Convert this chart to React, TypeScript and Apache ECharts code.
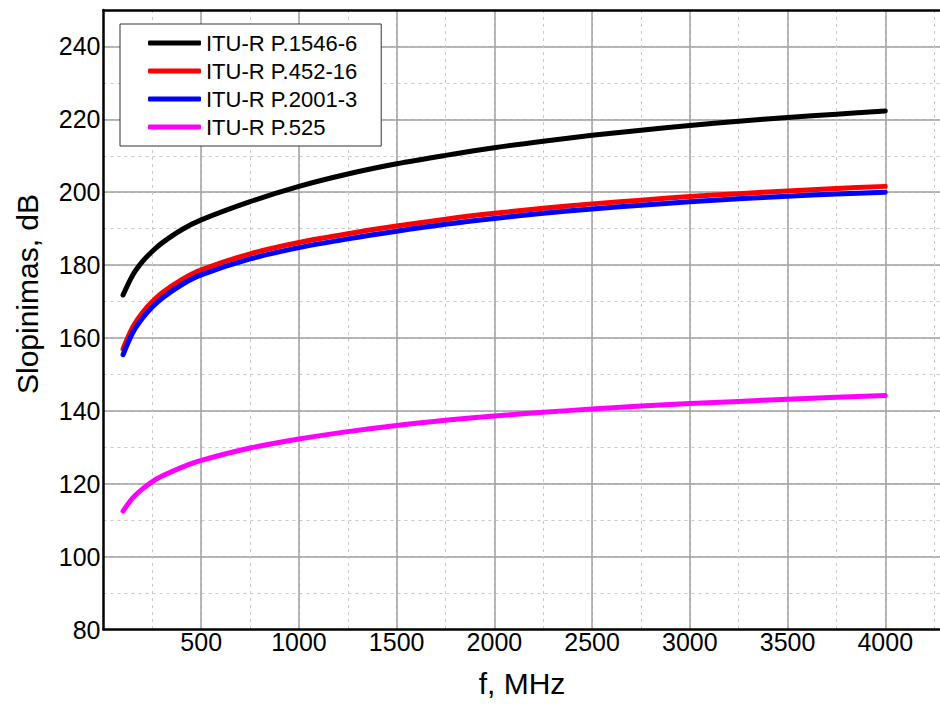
import React, { useEffect, useRef } from "react";
import * as echarts from "echarts";

const freqs = [100, 150, 200, 250, 300, 400, 500, 750, 1000, 1250, 1500, 1750, 2000, 2250, 2500, 2750, 3000, 3250, 3500, 3750, 4000];
const p1546 = [171.8, 177.3, 181.0, 183.8, 186.1, 189.7, 192.4, 197.4, 201.6, 205.0, 207.8, 210.1, 212.2, 214.0, 215.6, 217.0, 218.3, 219.5, 220.5, 221.4, 222.3];
const p452 = [157.0, 163.0, 167.0, 170.0, 172.4, 176.0, 178.7, 183.1, 186.2, 188.6, 190.7, 192.6, 194.2, 195.6, 196.8, 197.8, 198.8, 199.6, 200.3, 201.0, 201.6];
const p2001 = [155.4, 161.5, 165.5, 168.5, 170.9, 174.6, 177.3, 181.7, 184.8, 187.2, 189.3, 191.2, 192.8, 194.2, 195.4, 196.4, 197.4, 198.2, 198.9, 199.5, 200.0];
const p525 = [112.5, 116.1, 118.6, 120.6, 122.1, 124.5, 126.4, 129.8, 132.3, 134.3, 136.0, 137.4, 138.6, 139.6, 140.5, 141.3, 142.0, 142.6, 143.2, 143.7, 144.2];
const seriesNames = ["ITU-R P.1546-6", "ITU-R P.452-16", "ITU-R P.2001-3", "ITU-R P.525"];
const seriesColors = ["#000000", "#ff0000", "#0000ff", "#ff00ff"];
const seriesValues = [p1546, p452, p2001, p525];
const xTitle = "f, MHz";
const yTitle = "Slopinimas, dB";

const FONT = "Arial, 'Liberation Sans', sans-serif";

export default function App() {
  const ref = useRef<HTMLDivElement>(null);
  useEffect(() => {
    if (!ref.current) return;
    const chart = echarts.init(ref.current, undefined, { renderer: "svg" });
    const gridLine = { color: "#a0a0a0", width: 1.5 };
    const minorLine = { color: "#c8c8c8", width: 1, type: [3, 4] as any };
    chart.setOption({
      animation: false,
      backgroundColor: "#ffffff",
      grid: { left: 103.5, right: 0, top: 10, bottom: 74.5, containLabel: false },
      legend: {
        data: seriesNames,
        orient: "vertical",
        left: 120,
        top: 24,
        padding: [8, 24, 8, 28],
        itemWidth: 53,
        itemHeight: 5,
        itemGap: 6,
        icon: "roundRect",
        backgroundColor: "#ffffff",
        borderColor: "#333333",
        borderWidth: 1,
        textStyle: { fontFamily: FONT, fontSize: 22, color: "#000", lineHeight: 21 },
      },
      xAxis: [
        {
          type: "value", min: 0, max: 4280, interval: 250, position: "bottom",
          axisLine: { show: false }, axisTick: { show: false }, axisLabel: { show: false },
          splitLine: { show: true, lineStyle: minorLine, showMinLine: false, showMaxLine: false },
        },
        {
          type: "value", min: 0, max: 4280, interval: 500, position: "bottom",
          axisLine: { show: true, onZero: false, lineStyle: { color: "#000", width: 2.5 } },
          axisTick: { show: false },
          axisLabel: {
            fontFamily: FONT, fontSize: 25, color: "#000", margin: 0,
            showMinLabel: false, showMaxLabel: false,
            formatter: (v: number) => String(v),
          },
          splitLine: { show: true, lineStyle: gridLine, showMinLine: false, showMaxLine: false },
        },
        {
          type: "value", min: 0, max: 4280, position: "top",
          axisLine: { show: true, onZero: false, lineStyle: { color: "#000", width: 2.5 } },
          axisTick: { show: false }, axisLabel: { show: false }, splitLine: { show: false },
        },
      ],
      yAxis: [
        {
          type: "value", min: 80, max: 250, interval: 10, position: "left",
          axisLine: { show: false }, axisTick: { show: false }, axisLabel: { show: false },
          splitLine: { show: true, lineStyle: minorLine, showMinLine: false, showMaxLine: false },
        },
        {
          type: "value", min: 80, max: 250, interval: 20, position: "left",
          axisLine: { show: true, onZero: false, lineStyle: { color: "#000", width: 2.5 } },
          axisTick: { show: false },
          axisLabel: {
            fontFamily: FONT, fontSize: 25, color: "#000", margin: 3, showMaxLabel: false,
            formatter: (v: number) => String(v),
          },
          splitLine: { show: true, lineStyle: gridLine, showMinLine: false, showMaxLine: false },
        },
      ],
      series: seriesNames.map((name, k) => ({
        name,
        type: "line",
        xAxisIndex: 1,
        yAxisIndex: 1,
        data: freqs.map((f, i) => [f, seriesValues[k][i]]),
        smooth: 0.3,
        symbol: "none",
        color: seriesColors[k],
        lineStyle: { color: seriesColors[k], width: 5, cap: "round", join: "round" },
      })),
      graphic: [
        {
          type: "text", x: 522, y: 683,
          style: { text: xTitle, font: `30px ${FONT}`, fill: "#000", textAlign: "center", textVerticalAlign: "middle" },
        },
        {
          type: "text", x: 27, y: 294, rotation: Math.PI / 2,
          style: { text: yTitle, font: `30px ${FONT}`, fill: "#000", textAlign: "center", textVerticalAlign: "middle" },
        },
      ],
    });
    return () => chart.dispose();
  }, []);
  return <div ref={ref} style={{ position: "fixed", left: 0, top: 0, width: 940, height: 704 }} />;
}
